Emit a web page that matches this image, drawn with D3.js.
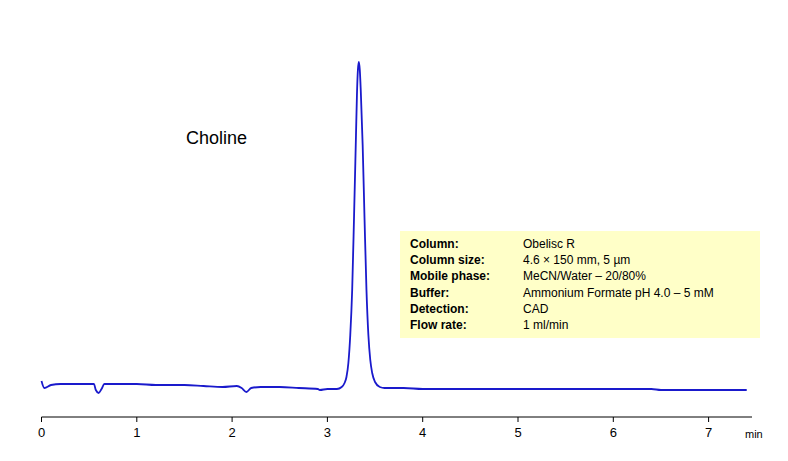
<!DOCTYPE html><html><head><meta charset="utf-8">
<script src="https://cdn.jsdelivr.net/npm/d3@7"></script>
<style>body{margin:0;background:#fff}text{font-family:Arial,"Liberation Sans",sans-serif}</style></head><body>
<svg id="c" width="788" height="461"></svg>
<script>
const times=[0,0.03,0.1,0.2,0.3,0.45,0.55,0.57,0.6,0.63,0.66,0.8,1.0,1.2,1.5,1.7,1.9,2.05,2.1,2.15,2.2,2.3,2.5,2.7,2.9,2.92,3.0,3.1,3.15,3.18,3.2,3.22,3.24,3.26,3.28,3.3,3.31,3.32,3.33,3.34,3.35,3.37,3.39,3.41,3.43,3.45,3.47,3.5,3.55,3.6,3.8,4.0,4.5,5.0,5.5,6.0,6.4,6.5,7.0,7.4];
const signal=[4,-3,0,1,1,1,1,-5,-8,-4,1,1,1,0,0,-1,-2,-1,-3,-7,-3,-2,-2,-3,-4,-5,-4,-4,-2,2,8,22,50,95,170,250,290,315,323,315,295,240,165,95,50,25,12,3,-2,-3,-3,-4,-4,-4,-4,-4,-4,-5,-5,-5];
const xTicks=[0,1,2,3,4,5,6,7];
const infoLabels=["Column:","Column size:","Mobile phase:","Buffer:","Detection:","Flow rate:"];
const infoValues=["Obelisc R","4.6 × 150 mm, 5 µm","MeCN/Water – 20/80%","Ammonium Formate pH 4.0  – 5 mM","CAD","1 ml/min"];
const svg=d3.select("#c");
const x=d3.scaleLinear().domain([0,7]).range([41.5,708.6]);
const y=d3.scaleLinear().domain([0,323]).range([385,62]);
const ax=svg.append("g").attr("transform","translate(0,417)");
ax.append("line").attr("x1",x(0)).attr("x2",752).attr("stroke","#000");
ax.selectAll(".t").data(xTicks).enter().append("line").attr("x1",d=>x(d)).attr("x2",d=>x(d)).attr("y1",0).attr("y2",5).attr("stroke","#000");
ax.selectAll(".l").data(xTicks).enter().append("text").attr("x",d=>x(d)).attr("y",20).attr("text-anchor","middle").attr("font-size",13).text(d=>d);
svg.append("text").attr("x",745).attr("y",438).attr("font-size",11).text("min");
svg.append("path").datum(times.map((t,i)=>[t,signal[i]])).attr("fill","none").attr("stroke","#1a1acc").attr("stroke-width",1.8)
 .attr("d",d3.line().x(d=>x(d[0])).y(d=>y(d[1])).curve(d3.curveMonotoneX));
svg.append("text").attr("x",186).attr("y",144).attr("font-size",18).text("Choline");
svg.append("rect").attr("x",400).attr("y",231).attr("width",360).attr("height",107).attr("fill","#ffffc8");
infoLabels.forEach((l,i)=>{
 svg.append("text").attr("x",410).attr("y",248+i*16.2).attr("font-size",12).attr("font-weight","bold").text(l);
 svg.append("text").attr("x",523).attr("y",248+i*16.2).attr("font-size",12).text(infoValues[i]);
});
</script></body></html>
